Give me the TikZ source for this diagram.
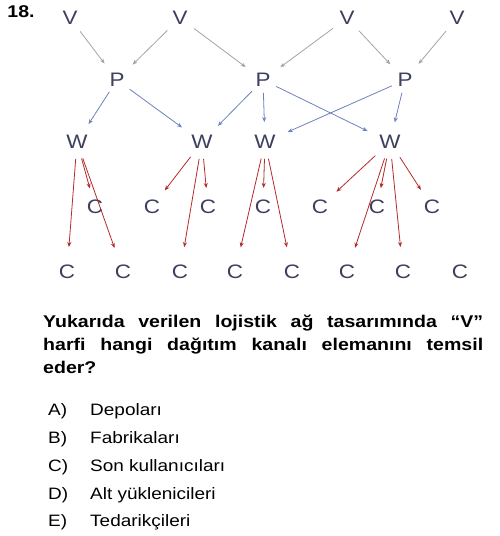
\documentclass[tikz,border=0pt]{standalone}
\usepackage{fontspec}
\setmainfont{Liberation Sans}[FakeStretch=1.15]
\usetikzlibrary{arrows.meta}
\definecolor{lettercol}{HTML}{3C3F5E}
\definecolor{vpcol}{HTML}{A3A3A3}
\definecolor{pwcol}{HTML}{6E80BE}
\definecolor{wccol}{HTML}{B22A2A}
\tikzstyle{letter}=[inner sep=0pt,text=lettercol,font=\fontsize{19.5}{22}\selectfont]
\tikzstyle{link}=[-{Stealth[length=5pt,width=4pt]},line width=0.8pt]

\begin{document}
\begin{tikzpicture}[x=1pt,y=-1pt]
    \useasboundingbox (0,0) rectangle (500,536);
    \tikzstyle{vp}=[link,vpcol,shorten <=8pt,shorten >=12pt]
    \tikzstyle{pw}=[link,pwcol,shorten <=6pt,shorten >=13pt]
    \tikzstyle{wc}=[link,wccol,shorten <=10pt,shorten >=12pt]
    \tikzstyle{low}=[shorten >=18pt]
    \node[font=\bfseries\fontsize{17}{20}\selectfont] (num) at (21,12) {18.};
    % top row
    \node[letter] (V1) at (70,18)  {V};
    \node[letter] (V2) at (180,18) {V};
    \node[letter] (V3) at (347,18) {V};
    \node[letter] (V4) at (457,18) {V};
    \node[letter] (P1) at (117,80) {P};
    \node[letter] (P2) at (263,80) {P};
    \node[letter] (P3) at (405,80) {P};
    \node[letter] (W1) at (77,142)  {W};
    \node[letter] (W2) at (202,142) {W};
    \node[letter] (W3) at (265,142) {W};
    \node[letter] (W4) at (390,142) {W};
    % middle and bottom C
    \node[letter] (C1) at (95,207)  {C};
    \node[letter] (C2) at (152,207) {C};
    \node[letter] (C3) at (208,207) {C};
    \node[letter] (C4) at (263,207) {C};
    \node[letter] (C5) at (320,207) {C};
    \node[letter] (C6) at (377,207) {C};
    \node[letter] (C7) at (432,207) {C};
    \node[letter] (C8)  at (67,272)  {C};
    \node[letter] (C9)  at (123,272) {C};
    \node[letter] (C10) at (180,272) {C};
    \node[letter] (C11) at (235,272) {C};
    \node[letter] (C12) at (292,272) {C};
    \node[letter] (C13) at (347,272) {C};
    \node[letter] (C14) at (403,272) {C};
    \node[letter] (C15) at (460,272) {C};
    \draw[vp] (V1) -- (P1);
    \draw[vp] (V2) -- (P1);
    \draw[vp] (V2) -- (P2);
    \draw[vp] (V3) -- (P2);
    \draw[vp] (V3) -- (P3);
    \draw[vp] (V4) -- (P3);
    \draw[pw] (P1) -- (W1);
    \draw[pw] (P1) -- (W2);
    \draw[pw] (P2) -- (W2);
    \draw[pw] (P2) -- (W3);
    \draw[pw] (P2) -- (W4);
    \draw[pw] (P3) -- (W3);
    \draw[pw] (P3) -- (W4);
    \draw[wc,low] (W1) -- (C8);
    \draw[wc] (W1) -- (C1);
    \draw[wc,low] (W1) -- (C9);
    \draw[wc] (W2) -- (C2);
    \draw[wc,low] (W2) -- (C10);
    \draw[wc] (W2) -- (C3);
    \draw[wc,low] (W3) -- (C11);
    \draw[wc] (W3) -- (C4);
    \draw[wc,low] (W3) -- (C12);
    \draw[wc] (W4) -- (C5);
    \draw[wc,low] (W4) -- (C13);
    \draw[wc] (W4) -- (C6);
    \draw[wc,low] (W4) -- (C14);
    \draw[wc] (W4) -- (C7);
    % question
    \node[anchor=base west,inner sep=0pt,text width=440pt,align=justify,
          font=\bfseries\fontsize{17}{23}\selectfont] (Q) at (43,327)
      {Yukarıda verilen lojistik ağ tasarımında “V”\linebreak
       harfi hangi dağıtım kanalı elemanını temsil\linebreak eder?};
    \tikzstyle{opt}=[anchor=base west,inner sep=0pt,font=\fontsize{16.5}{20}\selectfont]
    \node[opt] (A) at (48,415) {A)};  \node[opt] (Atext) at (90,415) {Depoları};
    \node[opt] (B) at (48,443) {B)};  \node[opt] (Btext) at (90,443) {Fabrikaları};
    \node[opt] (C) at (48,471) {C)};  \node[opt] (Ctext) at (90,471) {Son kullanıcıları};
    \node[opt] (D) at (48,499) {D)};  \node[opt] (Dtext) at (90,499) {Alt yüklenicileri};
    \node[opt] (E) at (48,526) {E)};  \node[opt] (Etext) at (90,526) {Tedarikçileri};
\end{tikzpicture}
\end{document}
